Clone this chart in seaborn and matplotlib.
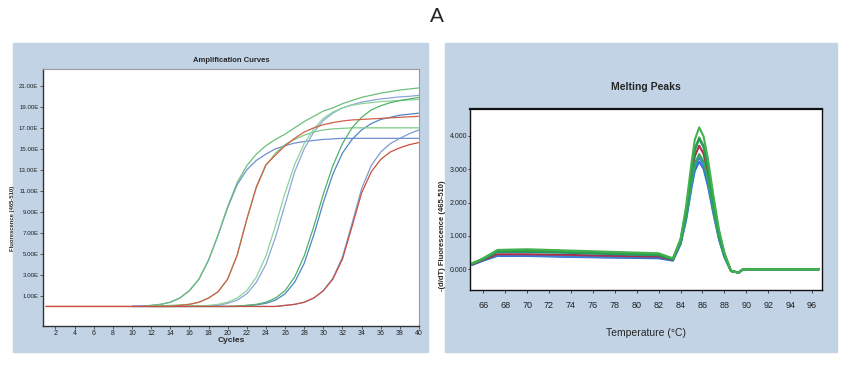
import pandas as pd
import matplotlib.pyplot as plt
import seaborn as sns
from matplotlib.patches import Rectangle

# ---- amplification curves (fluorescence per cycle, each trace from its first cycle)
g1_green_start = 11
g1_green = [0.0, 0.1, 0.2, 0.4, 0.8, 1.5, 2.6, 4.4, 6.8, 9.5, 11.8, 13.4, 14.5, 15.3, 15.9,
            16.4, 17.0, 17.6, 18.1, 18.6, 18.9, 19.3, 19.6, 19.9, 20.1, 20.3, 20.45, 20.6, 20.7, 20.8]
g1_blue_start = 10
g1_blue = [0.0, 0.05, 0.1, 0.2, 0.4, 0.8, 1.5, 2.6, 4.4, 6.8, 9.4, 11.6, 13.0, 13.9, 14.5, 15.0,
           15.3, 15.55, 15.7, 15.8, 15.9, 15.95] + [16.0] * 9
g2_red_start = 1
g2_red = [0.0] * 14 + [0.1, 0.2, 0.4, 0.8, 1.4, 2.6, 4.9, 8.3, 11.4, 13.5, 14.4, 15.3, 16.0, 16.6,
                       17.0, 17.3, 17.5, 17.65, 17.75, 17.8, 17.85, 17.9, 17.95, 18.0, 18.05, 18.1]
g2_green_start = 12
g2_green = [0.0, 0.05, 0.1, 0.15, 0.2, 0.4, 0.8, 1.4, 2.6, 4.9, 8.3, 11.3, 13.4, 14.6, 15.4, 15.9,
            16.3, 16.6, 16.8, 16.9, 16.95] + [17.0] * 8
g3_green_start = 12
g3_green = [0.0, 0.0, 0.0, 0.0, 0.05, 0.05, 0.1, 0.2, 0.4, 0.8, 1.5, 2.8, 4.8, 7.7, 10.8, 13.5,
            15.5, 16.9, 17.9, 18.5, 18.9, 19.15, 19.3, 19.4, 19.5, 19.55, 19.6, 19.65, 19.7]
g3_blue_start = 10
g3_blue = [0.0] * 7 + [0.05, 0.05, 0.1, 0.3, 0.6, 1.2, 2.3, 4.0, 6.6, 9.7, 12.8, 15.0, 16.6, 17.7,
                       18.4, 18.9, 19.2, 19.45, 19.6, 19.75, 19.85, 19.95, 20.0, 20.1]
g4_green_start = 12
g4_green = [0.0] * 9 + [0.05, 0.1, 0.2, 0.4, 0.8, 1.5, 2.8, 4.8, 7.6, 10.7, 13.4, 15.5, 17.0,
                        18.0, 18.7, 19.1, 19.4, 19.6, 19.75, 19.9]
g4_blue_start = 10
g4_blue = [0.0] * 12 + [0.1, 0.15, 0.3, 0.6, 1.2, 2.3, 4.1, 6.8, 9.9, 12.6, 14.6, 15.9, 16.8,
                        17.4, 17.8, 18.0, 18.2, 18.3, 18.4]
g5_red_start = 1
g5_red = [0.0] * 25 + [0.1, 0.2, 0.4, 0.8, 1.5, 2.6, 4.5, 7.6, 10.8, 12.8, 14.0, 14.7, 15.1, 15.4, 15.6]
g5_blue_start = 10
g5_blue = [0.0] * 16 + [0.1, 0.2, 0.4, 0.8, 1.5, 2.7, 4.7, 7.9, 11.2, 13.4, 14.7, 15.5, 16.0, 16.45, 16.8]

amp_traces = [
    ('g1_blue', g1_blue_start, g1_blue), ('g3_blue', g3_blue_start, g3_blue),
    ('g4_blue', g4_blue_start, g4_blue), ('g5_blue', g5_blue_start, g5_blue),
    ('g1_green', g1_green_start, g1_green), ('g2_green', g2_green_start, g2_green),
    ('g3_green', g3_green_start, g3_green), ('g4_green', g4_green_start, g4_green),
    ('g2_red', g2_red_start, g2_red), ('g5_red', g5_red_start, g5_red),
]
amp_ticks = list(range(2, 41, 2))
amp_yticks = [1, 3, 5, 7, 9, 11, 13, 15, 17, 19, 21]
amp_ylabels = ['1.00E', '3.00E', '5.00E', '7.00E', '9.00E', '11.00E', '13.00E',
               '15.00E', '17.00E', '19.00E', '21.00E']

# ---- melting peaks -(d/dT) fluorescence
temps = [65.0, 66.0, 67.3, 70.0, 74.0, 78.0, 82.0, 83.3, 84.0, 84.5, 85.0, 85.3, 85.7,
         86.1, 86.5, 87.0, 87.5, 88.0, 88.6, 89.3, 89.7, 96.6]
melt_green_a = [0.17, 0.33, 0.58, 0.60, 0.56, 0.52, 0.48, 0.33, 0.91, 1.87, 3.19, 3.88, 4.25,
                3.98, 3.30, 2.20, 1.20, 0.50, -0.05, -0.10, 0.0, 0.0]
melt_green_b = [0.18, 0.32, 0.55, 0.55, 0.52, 0.48, 0.44, 0.30, 0.87, 1.75, 2.98, 3.61, 3.95,
                3.70, 3.07, 2.05, 1.11, 0.46, -0.05, -0.10, 0.0, 0.0]
melt_teal = [0.16, 0.30, 0.52, 0.52, 0.49, 0.45, 0.42, 0.29, 0.86, 1.73, 2.94, 3.56, 3.90,
             3.65, 3.03, 2.02, 1.10, 0.45, -0.05, -0.10, 0.0, 0.0]
melt_red = [0.15, 0.28, 0.45, 0.45, 0.43, 0.40, 0.38, 0.28, 0.83, 1.65, 2.79, 3.38, 3.70,
            3.46, 2.87, 1.91, 1.04, 0.43, -0.05, -0.10, 0.0, 0.0]
melt_green_c = [0.17, 0.31, 0.53, 0.57, 0.54, 0.50, 0.45, 0.31, 0.79, 1.56, 2.61, 3.16, 3.45,
                3.23, 2.67, 1.78, 0.96, 0.39, -0.05, -0.10, 0.0, 0.0]
melt_blue_a = [0.14, 0.27, 0.42, 0.42, 0.38, 0.36, 0.36, 0.27, 0.77, 1.52, 2.54, 3.07, 3.35,
               3.13, 2.60, 1.73, 0.93, 0.38, -0.05, -0.10, 0.0, 0.0]
melt_blue_b = [0.13, 0.26, 0.40, 0.40, 0.37, 0.35, 0.33, 0.26, 0.75, 1.46, 2.44, 2.95, 3.22,
               3.01, 2.49, 1.66, 0.90, 0.36, -0.05, -0.10, 0.0, 0.0]
melt_traces = [('blue_b', melt_blue_b), ('blue_a', melt_blue_a), ('red', melt_red),
               ('green_c', melt_green_c), ('teal', melt_teal), ('green_b', melt_green_b),
               ('green_a', melt_green_a)]
melt_ticks = list(range(66, 97, 2))
melt_yticks = [0, 1, 2, 3, 4]
melt_ylabels = ['0.000', '1.000', '2.000', '3.000', '4.000']

# long-form tables
rows = []
for name, start, vals in amp_traces:
    for i, v in enumerate(vals):
        rows.append((name, start + i, v))
amp_df = pd.DataFrame(rows, columns=['sample', 'cycle', 'fluor'])
rows = []
for name, vals in melt_traces:
    for t, v in zip(temps, vals):
        rows.append((name, t, v))
melt_df = pd.DataFrame(rows, columns=['sample', 'temp', 'dfdt'])

amp_pal = {'g1_blue': '#6f8fcf', 'g3_blue': '#8aa6dc', 'g4_blue': '#4f86c6', 'g5_blue': '#7e9ad6',
           'g1_green': '#6cc07a', 'g2_green': '#7fca86', 'g3_green': '#8ed39a', 'g4_green': '#4fb36a',
           'g2_red': '#d0604a', 'g5_red': '#c8503e'}
melt_pal = {'blue_b': '#2d6fd2', 'blue_a': '#3c82d8', 'red': '#a8304a', 'green_c': '#33a957',
            'teal': '#17977a', 'green_b': '#2e9f45', 'green_a': '#45b04f'}

sns.set_style('white')
plt.rcParams['font.family'] = ['Liberation Sans', 'DejaVu Sans']

fig = plt.figure(figsize=(8.42, 3.66), dpi=100)
bg = '#c1d3e5'
fig.patches.append(Rectangle((13 / 842, 1 - 352 / 366), 415 / 842, 309 / 366,
                             transform=fig.transFigure, color=bg, zorder=-10))
fig.patches.append(Rectangle((445 / 842, 1 - 352 / 366), 392 / 842, 309 / 366,
                             transform=fig.transFigure, color=bg, zorder=-10))
fig.text(437 / 842, 1 - 17 / 366, 'A', ha='center', va='center', fontsize=15)

# left: amplification curves
ax1 = fig.add_axes([43 / 842, 1 - 326 / 366, 376 / 842, 257 / 366])
sns.lineplot(data=amp_df, x='cycle', y='fluor', hue='sample', palette=amp_pal,
             hue_order=[t[0] for t in amp_traces], estimator=None, legend=False,
             linewidth=0.9, ax=ax1)
ax1.set_xlim(0.7, 40)
ax1.set_ylim(-1.86, 22.6)
ax1.set_xticks(amp_ticks)
ax1.set_xticklabels([str(t) for t in amp_ticks], fontsize=5)
ax1.set_yticks(amp_yticks)
ax1.set_yticklabels(amp_ylabels, fontsize=4.4)
ax1.tick_params(length=2, width=0.5, pad=1.2, colors='#222222', left=True, bottom=True)
ax1.set_xlabel('Cycles', fontsize=6, fontweight='bold', labelpad=0)
ax1.set_ylabel('Fluorescence (465-510)', fontsize=4.2, fontweight='bold')
ax1.yaxis.set_label_coords(-28 / 376, 0.42)
ax1.set_title('Amplification Curves', fontsize=5.5, fontweight='bold', pad=5)
for side in ['left', 'bottom']:
    ax1.spines[side].set_color('#333333')
    ax1.spines[side].set_linewidth(1.0)
for side in ['top', 'right']:
    ax1.spines[side].set_color('#9a9a9a')
    ax1.spines[side].set_linewidth(0.8)

# right: melting peaks
ax2 = fig.add_axes([470 / 842, 1 - 290 / 366, 352 / 842, 181 / 366])
sns.lineplot(data=melt_df, x='temp', y='dfdt', hue='sample', palette=melt_pal,
             hue_order=[t[0] for t in melt_traces], estimator=None, legend=False,
             linewidth=1.5, ax=ax2)
ax2.set_xlim(64.8, 96.9)
ax2.set_ylim(-0.62, 4.8)
ax2.set_xticks(melt_ticks)
ax2.set_xticklabels([str(t) for t in melt_ticks], fontsize=6.5)
ax2.set_yticks(melt_yticks)
ax2.set_yticklabels(melt_ylabels, fontsize=5)
ax2.tick_params(axis='x', length=2, width=0.6, pad=6, colors='#222222', bottom=True)
ax2.tick_params(axis='y', length=1.5, width=0.6, pad=0.5, colors='#222222', left=True)
ax2.set_xlabel('Temperature (°C)', fontsize=7.5, labelpad=13)
ax2.set_ylabel('-(d/dT) Fluorescence (465-510)', fontsize=5.5, fontweight='bold')
ax2.yaxis.set_label_coords(-23.5 / 352, 0.3)
ax2.set_title('Melting Peaks', fontsize=7.5, fontweight='bold', pad=14)
for side in ax2.spines.values():
    side.set_color('#111111')
    side.set_linewidth(1.0)
ax2.spines['top'].set_linewidth(1.6)

fig.savefig('out.png', dpi=100, facecolor='white')
